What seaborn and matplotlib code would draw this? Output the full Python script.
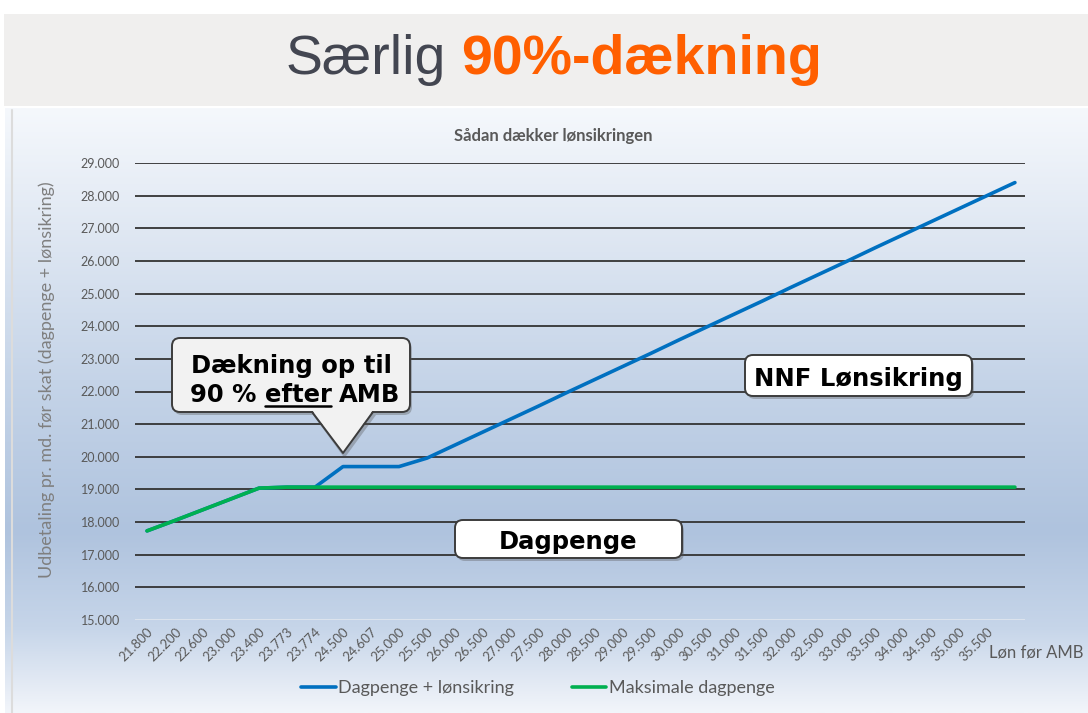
import numpy as np
import pandas as pd
import seaborn as sns
import matplotlib.pyplot as plt
from matplotlib.patches import FancyBboxPatch, Polygon, Rectangle
from matplotlib.colors import LinearSegmentedColormap

# x categories (monthly salary before AMB)
labels = ["21.800", "22.200", "22.600", "23.000", "23.400", "23.773", "23.774",
          "24.500", "24.607", "25.000", "25.500", "26.000", "26.500", "27.000",
          "27.500", "28.000", "28.500", "29.000", "29.500", "30.000", "30.500",
          "31.000", "31.500", "32.000", "32.500", "33.000", "33.500", "34.000",
          "34.500", "35.000", "35.500", ""]

# Dagpenge + lønsikring
blue = [17730, 18050, 18380, 18710, 19040, 19070, 19070, 19700, 19700, 19700,
        19960, 20360, 20760, 21160, 21560, 21970, 22370, 22770, 23170, 23580,
        23980, 24380, 24780, 25190, 25590, 25990, 26400, 26800, 27200, 27600,
        28000, 28400]
# Maksimale dagpenge
green = [17730, 18050, 18380, 18710, 19040, 19070, 19070, 19070, 19070, 19070,
         19070, 19070, 19070, 19070, 19070, 19070, 19070, 19070, 19070, 19070,
         19070, 19070, 19070, 19070, 19070, 19070, 19070, 19070, 19070, 19070,
         19070, 19070]

yticks = list(range(15000, 29001, 1000))

pos = np.arange(len(labels))
df = pd.concat([
    pd.DataFrame({"pos": pos, "val": blue, "serie": "Dagpenge + lønsikring"}),
    pd.DataFrame({"pos": pos, "val": green, "serie": "Maksimale dagpenge"}),
])

sns.set_theme(style="white")
plt.rcParams["font.family"] = ["Lato", "DejaVu Sans"]

W, H = 1088, 713
fig = plt.figure(figsize=(W / 100, H / 100), dpi=100)
fig.patch.set_facecolor("white")

# title band + chart panel background
bg = fig.add_axes([0, 0, 1, 1], zorder=0)
bg.axis("off")
bg.add_patch(Rectangle((4, 14), W - 4, 92, facecolor="#f0efee", edgecolor="none"))
grad = LinearSegmentedColormap.from_list(
    "bgg", [(0, "#f5f8fc"), (0.2, "#e0e8f3"), (0.45, "#c5d4e8"), (0.7, "#afc3de"),
            (0.86, "#c6d5e9"), (1.0, "#f2f5fa")])
bg.imshow(np.linspace(0, 1, 256).reshape(-1, 1), cmap=grad, aspect="auto",
          extent=(5, W, H, 108), zorder=1)
bg.plot([12, 12], [110, H], color="#dcdcdc", lw=1.5, zorder=2)
bg.set_xlim(0, W)
bg.set_ylim(H, 0)

bg.text(446, 60, "Særlig", ha="right", va="center", fontsize=40,
        family="Liberation Sans", color="#434651")
bg.text(461, 60, "90%-dækning", ha="left", va="center", fontsize=40,
        family="Liberation Sans", fontweight="bold", color="#ff5f00")
bg.text(553, 136, "Sådan dækker lønsikringen", ha="center", va="center",
        fontsize=12, fontweight="bold", color="#595959")
bg.text(47, 380, "Udbetaling pr. md. før skat (dagpenge + lønsikring)",
        rotation=90, ha="center", va="center", fontsize=13, color="#7f7f7f")
bg.text(989, 652, "Løn før AMB", ha="left", va="center", fontsize=12,
        color="#595959")

# main chart
ax = fig.add_axes([135 / W, 1 - 620 / H, (1025 - 135) / W, (620 - 163) / H], zorder=2)
ax.set_facecolor("none")
sns.lineplot(data=df, x="pos", y="val", hue="serie",
             palette=["#0070c0", "#00b050"], linewidth=2.6, ax=ax)
ax.set_xlim(-0.43, 31.36)
ax.set_ylim(15000, 29000)
ax.set_yticks(yticks)
ax.set_yticklabels([f"{v:,}".replace(",", ".") for v in yticks])
ax.set_xticks(pos)
ax.set_xticklabels(labels, rotation=45, ha="right", rotation_mode="anchor")
ax.tick_params(axis="y", length=0, pad=11, labelsize=9, labelcolor="#595959")
ax.tick_params(axis="x", length=0, pad=4, labelsize=9.5, labelcolor="#595959")
ax.set_xlabel("")
ax.set_ylabel("")
for s in ax.spines.values():
    s.set_visible(False)
ax.yaxis.grid(True, color="#333333", lw=1.3)
ax.set_axisbelow(True)
ax.get_ygridlines()[0].set_color("#dfe5ee")

sns.move_legend(ax, "center", bbox_to_anchor=(538 / W, 1 - 688 / H),
                bbox_transform=fig.transFigure, ncol=2, frameon=False, title=None,
                fontsize=13, handlelength=1.9, handletextpad=0.15,
                columnspacing=3.2)
for t in ax.get_legend().get_texts():
    t.set_color("#595959")

# callouts
ov = fig.add_axes([0, 0, 1, 1], zorder=5)
ov.set_xlim(0, W)
ov.set_ylim(H, 0)
ov.axis("off")
ov.set_facecolor("none")

bold = dict(family="DejaVu Sans", fontweight="bold", fontsize=17.5, color="black")


def box(x0, y0, x1, y1, fc):
    ov.add_patch(FancyBboxPatch((x0 + 2, y0 + 3), x1 - x0, y1 - y0,
                                boxstyle="round,pad=0,rounding_size=8",
                                facecolor="#555555", edgecolor="none", alpha=0.35))
    ov.add_patch(FancyBboxPatch((x0, y0), x1 - x0, y1 - y0,
                                boxstyle="round,pad=0,rounding_size=8",
                                facecolor=fc, edgecolor="#3c3c3c", lw=1.4))


box(172, 338, 410, 412, "#f2f2f2")
ov.add_patch(Polygon([(313, 415), (343, 456), (346, 456), (376, 415)], closed=True,
                     facecolor="#555555", edgecolor="none", alpha=0.35))
ov.add_patch(Polygon([(312, 410), (343, 453), (373, 410)], closed=True,
                     facecolor="#f2f2f2", edgecolor="none"))
ov.plot([312, 343, 373], [412, 453, 412], color="#3c3c3c", lw=1.4)
ov.text(291, 373, "Dækning op til", ha="center", va="baseline", **bold)
ov.text(256, 402, "90 %", ha="right", va="baseline", **bold)
t_ef = ov.text(298, 402, "efter", ha="center", va="baseline", **bold)
ov.text(339, 402, "AMB", ha="left", va="baseline", **bold)

box(745, 355, 972, 396, "white")
ov.text(858, 386, "NNF Lønsikring", ha="center", va="baseline", **bold)
box(455, 520, 682, 558, "white")
ov.text(568, 549, "Dagpenge", ha="center", va="baseline", **bold)

fig.canvas.draw()
bb = t_ef.get_window_extent(fig.canvas.get_renderer())
ov.plot([bb.x0, bb.x1], [405.5, 405.5], color="black", lw=1.8)

fig.savefig("out.png", dpi=100)
